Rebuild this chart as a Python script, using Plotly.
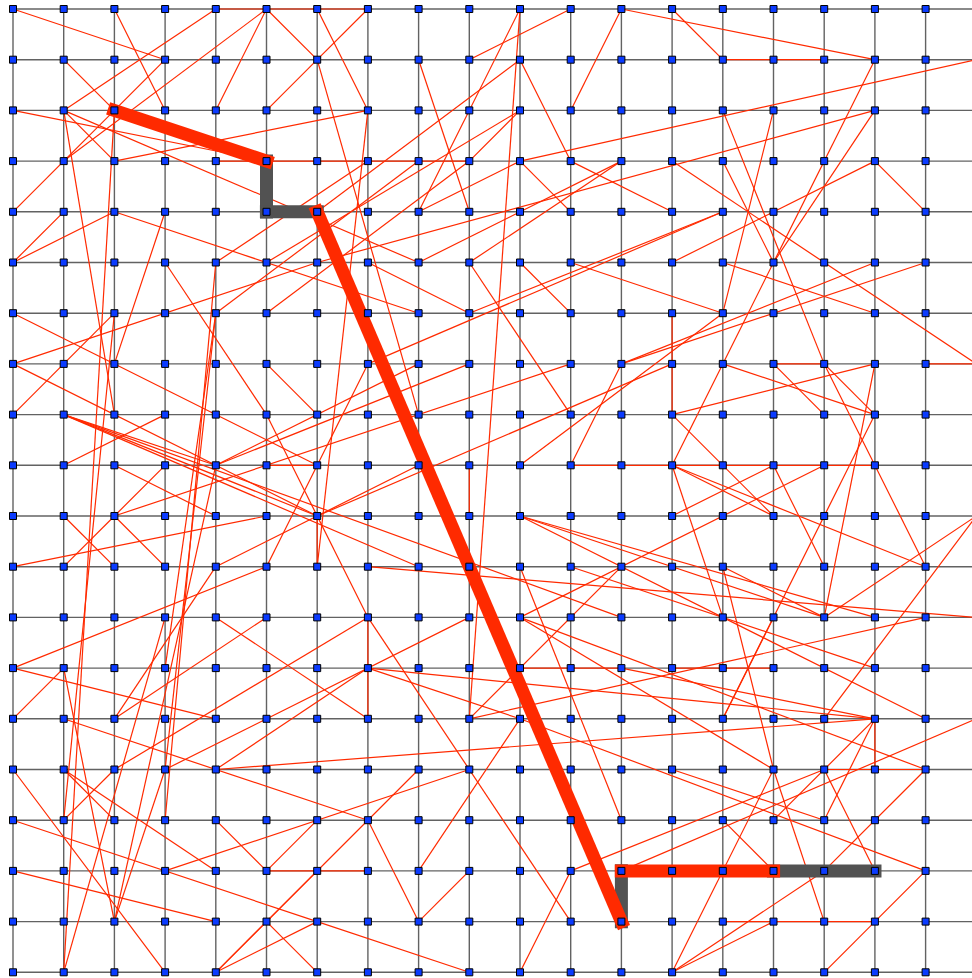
import plotly.graph_objects as go

N_COLS = 20
N_ROWS = 20

# long-range links: (col1, row1, col2, row2), rows counted from top
long_links = [
    (0,0,3,1),(2,0,3,2),(4,0,1,2),(5,0,4,2),(5,0,6,1),(6,1,5,2),(6,1,7,0),(6,0,7,2),
    (4,0,7,0),(3,1,0,4),(5,0,1,3),(1,1,2,2),(1,2,2,3),(0,2,5,3),(1,2,8,5),(1,2,2,8),
    (0,5,1,4),(0,5,2,4),(2,4,8,6),(3,4,2,7),(3,5,5,8),(2,3,7,2),(10,3,19,1),(12,0,17,1),
    (13,0,14,1),(14,1,16,1),(17,1,15,5),(17,2,15,5),(14,3,15,5),(14,2,16,7),(15,2,14,6),
    (13,3,19,7),(17,3,18,4),(11,3,13,4),(9,6,14,4),(13,5,17,3),(11,5,14,6),(14,5,17,6),
    (17,5,12,7),(18,5,12,7),(13,6,13,8),(6,5,17,2),(11,0,9,1),(12,0,11,2),(10,0,8,4),
    (10,0,9,14),(10,1,6,4),(10,1,11,3),(10,2,5,5),(8,1,9,4),(7,2,6,11),(4,3,9,3),
    (7,3,4,5),(8,3,4,6),(9,3,5,6),(10,2,9,3),(10,3,8,4),(10,3,11,4),(12,3,8,5),
    (7,5,9,6),(9,5,12,3),(9,5,11,8),(10,5,11,6),(7,7,14,4),(6,1,8,8),(0,7,6,5),
    (0,7,6,10),(1,8,4,9),(1,8,6,10),(1,8,8,11),(1,8,12,12),(0,8,2,6),(1,9,3,8),
    (2,9,4,10),(2,10,3,9),(2,10,11,7),(2,10,1,11),(2,10,3,11),(1,10,2,11),(0,11,5,10),
    (4,11,8,9),(5,7,6,8),(5,8,7,12),(8,7,4,9),(12,7,11,9),(11,9,17,9),(9,9,9,10),
    (10,10,16,12),(10,10,18,14),(7,12,7,13),(14,7,15,5),(14,7,13,9),(14,7,17,8),
    (15,7,16,7),(18,7,19,7),(15,7,16,8),(16,7,17,8),(16,7,18,11),(17,7,13,8),
    (17,8,14,14),(17,7,16,12),(13,8,15,10),(13,9,15,10),(13,9,18,11),(13,9,14,12),
    (15,9,16,11),(15,9,13,10),(16,9,10,12),(19,10,16,12),(19,10,16,14),(10,10,17,12),
    (7,11,19,12),(14,11,16,12),(0,13,5,11),(0,13,4,14),(0,14,1,13),(1,13,2,18),
    (1,14,7,16),(1,15,2,16),(1,15,4,17),(1,16,2,15),(1,16,2,6),(2,2,1,19),(1,19,3,12),
    (2,14,4,11),(2,14,5,12),(3,15,4,6),(3,16,4,5),(3,15,2,18),(3,15,9,12),(2,15,7,12),
    (4,15,17,14),(4,16,5,17),(5,17,6,16),(5,17,6,17),(4,19,6,18),(4,19,8,15),(5,18,6,17),
    (5,18,6,19),(4,19,5,18),(0,15,3,19),(0,16,6,18),(0,17,4,18),(2,18,4,9),(7,13,4,15),
    (7,13,17,14),(7,13,10,14),(7,13,7,14),(7,14,4,12),(9,14,12,11),(9,14,18,12),
    (3,17,9,15),(7,12,11,18),(10,13,12,13),(7,16,8,18),(8,18,9,17),(8,17,10,14),
    (6,18,9,19),(6,17,7,17),(10,19,11,17),(11,17,16,15),(12,16,10,11),(13,19,15,15),
    (13,19,15,18),(13,19,16,17),(14,18,17,18),(14,16,15,17),(15,15,14,11),(15,15,16,18),
    (15,15,10,12),(15,16,17,14),(16,15,17,17),(16,15,18,15),(17,14,17,15),(17,14,12,13),
    (17,14,16,16),(11,11,17,13),(18,15,16,17),(10,12,18,15),(18,17,17,18),(17,18,16,19),
    (19,14,12,17),(14,14,15,12),(13,13,15,13),(13,15,16,16),(10,14,18,17),(4,9,9,7),
    (5,11,7,7),(3,13,4,6),(5,9,6,9),(6,10,6,11),(10,9,14,6),(6,10,13,7),(0,6,6,9),
]

# highlighted route through the network
route_nodes = [(2,2),(5,3),(5,4),(6,4),(12,18),(12,17),(15,17),(17,17)]
route_kinds = ["long","grid","grid","long","grid","long","grid"]

GRID_COLOR = "rgba(70,70,70,0.85)"
LINK_COLOR = "#ff2a00"
ROUTE_GRID_COLOR = "#525252"
NODE_COLOR = "#0b3bff"

# grid lattice edges
gx, gy = [], []
for r in range(N_ROWS):
    for c in range(N_COLS - 1):
        gx += [c, c + 1, None]; gy += [r, r, None]
for c in range(N_COLS):
    for r in range(N_ROWS - 1):
        gx += [c, c, None]; gy += [r, r + 1, None]

lx, ly = [], []
for c1, r1, c2, r2 in long_links:
    lx += [c1, c2, None]; ly += [r1, r2, None]

fig = go.Figure()
fig.add_trace(go.Scatter(x=gx, y=gy, mode="lines", line=dict(color=GRID_COLOR, width=1.4),
                         hoverinfo="skip"))
fig.add_trace(go.Scatter(x=lx, y=ly, mode="lines", line=dict(color=LINK_COLOR, width=1.2),
                         hoverinfo="skip"))

# route segments, extended by half the stroke width to mimic square caps
EXT = 0.13
for kind, color in (("grid", ROUTE_GRID_COLOR), ("long", LINK_COLOR)):
    rx, ry = [], []
    for (a, b), k in zip(zip(route_nodes[:-1], route_nodes[1:]), route_kinds):
        if k != kind:
            continue
        dx, dy = b[0] - a[0], b[1] - a[1]
        d = (dx * dx + dy * dy) ** 0.5
        ux, uy = dx / d * EXT, dy / d * EXT
        rx += [a[0] - ux, b[0] + ux, None]
        ry += [a[1] - uy, b[1] + uy, None]
    fig.add_trace(go.Scatter(x=rx, y=ry, mode="lines", line=dict(color=color, width=13),
                             hoverinfo="skip"))

nx = [c for r in range(N_ROWS) for c in range(N_COLS)]
ny = [r for r in range(N_ROWS) for c in range(N_COLS)]
fig.add_trace(go.Scatter(x=nx, y=ny, mode="markers",
                         marker=dict(symbol="square", size=7, color=NODE_COLOR,
                                     line=dict(color="black", width=1)),
                         hoverinfo="skip"))

STEP = 50.7
fig.update_layout(
    width=972, height=978, margin=dict(l=0, r=0, t=0, b=0),
    paper_bgcolor="white", plot_bgcolor="white", showlegend=False,
    xaxis=dict(range=[-13 / STEP, (972 - 13) / STEP], visible=False, fixedrange=True),
    yaxis=dict(range=[(978 - 9) / STEP, -9 / STEP], visible=False, fixedrange=True),
)
fig.write_html("out.html", config={"displayModeBar": False},
               post_script="document.body.style.margin='0px';document.body.style.overflow='hidden';")
